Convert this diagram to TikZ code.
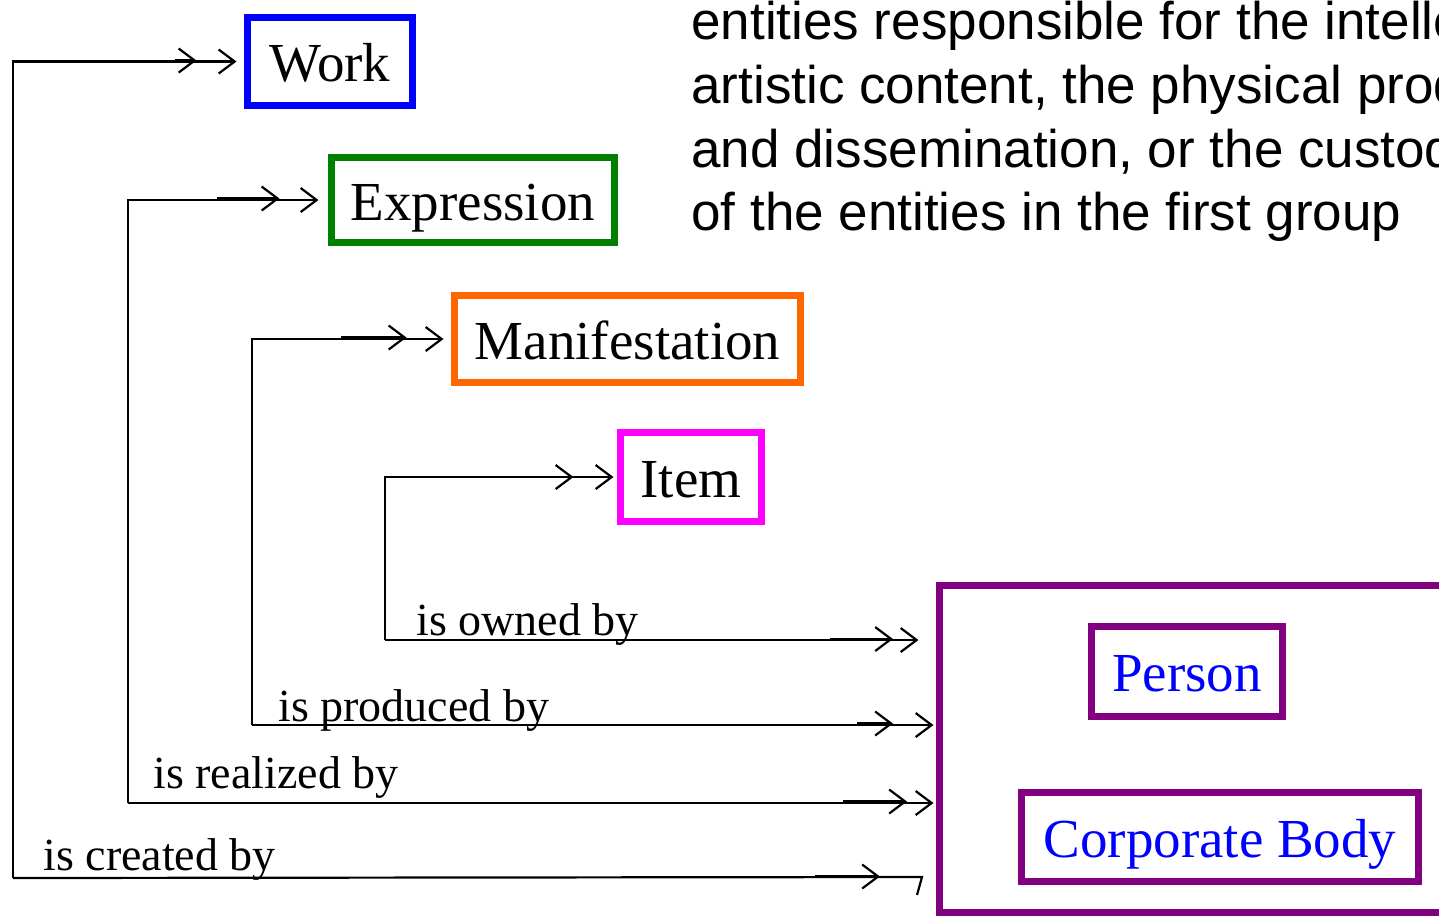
\documentclass[tikz,border=0pt]{standalone}
\usepackage{fontspec}
\setmainfont{Liberation Serif}
\newfontfamily\arialfont{Liberation Sans}
\usetikzlibrary{arrows.meta}

\definecolor{frbrblue}{RGB}{0,0,255}
\definecolor{frbrgreen}{RGB}{0,128,0}
\definecolor{frbrorange}{RGB}{255,102,0}
\definecolor{frbrmagenta}{RGB}{255,0,255}
\definecolor{frbrpurple}{RGB}{128,0,128}

\tikzset{
  link/.style={line width=1.1pt},
  tip/.style={link, -{Straight Barb[length=8pt,width=12pt]}},
  rel/.style={anchor=base west, inner sep=0pt, font=\fontsize{23}{27}\selectfont},
  desc/.style={anchor=base west, inner sep=0pt, font=\arialfont\fontsize{26.5}{32}\selectfont}
}

\begin{document}
\begin{tikzpicture}[x=0.5pt,y=-0.5pt]
  \useasboundingbox (0,0) rectangle (1439,917);
  \clip (0,0) rectangle (1439,917);

    \begin{scope}[shape=rectangle]
    \tikzstyle{every node}=[draw, line width=3.5pt, inner sep=0pt, text height=20pt, text depth=0pt, font=\fontsize{27.5}{33}\selectfont]
    \node[draw=frbrblue, minimum width=82.5pt, minimum height=44pt] (work) at (330,61.5) {Work};
    \node[draw=frbrgreen, minimum width=141.5pt, minimum height=42.5pt] (expr) at (473,200) {Expression};
    \node[draw=frbrorange, minimum width=173pt, minimum height=43.5pt] (manif) at (627.5,339) {Manifestation};
    \node[draw=frbrmagenta, minimum width=70.5pt, minimum height=44.5pt] (item) at (691,477) {Item};
    \node[draw=frbrpurple, minimum width=280.25pt, minimum height=163.5pt] (group) at (1219.75,749) {};
    \node[draw=frbrpurple, text=frbrblue, minimum width=95.5pt, minimum height=45pt] (person) at (1187,671.5) {Person};
    \node[draw=frbrpurple, text=frbrblue, minimum width=198.5pt, minimum height=44.5pt] (corp) at (1220,837) {Corporate Body};
    \end{scope}

  % text of the second group
  \node[desc] (desc1) at (691,39) {entities responsible for the intelle};
  \node[desc] (desc2) at (691,103) {artistic content, the physical prod};
  \node[desc] (desc3) at (691,167) {and dissemination, or the custod};
  \node[desc] (desc4) at (691,230) {of the entities in the first group};

  \coordinate (owc) at (385,640);
  \coordinate (prc) at (252,725);
  \coordinate (rec) at (128,803);
  \coordinate (crc) at (13,878);

  \begin{scope}
    \draw[tip, shorten >=1.75pt] (owc) |- (item.west);
    \draw[tip, shorten >=8.75pt] (owc) -- (owc -| group.west);
    \draw[tip, shorten >=3.75pt] (prc) |- (manif.west);
    \draw[tip, shorten >=1.25pt] (prc) -- (prc -| group.west);
    \draw[tip, shorten >=4.75pt] (rec) |- (expr.west);
    \draw[tip, shorten >=1.25pt] (rec) -- (rec -| group.west);
    \draw[tip, shorten >=3.75pt] (crc) |- (work.west);
    \draw[link] (crc) -- ++(909,-1) -- ++(-5,18);

    % inner heads
    \draw[tip] (work.west) ++(-69.5,-1) -- ++(22,0);
    \draw[tip] (expr.west) ++(-111.5,-1.5) -- ++(63,0);
    \draw[tip] (manif.west) ++(-110.5,-1.5) -- ++(66,0);
    \draw[tip] (item.west) ++(-75.5,0) -- ++(32,0);
    \draw[tip] (owc) ++(445,-1) -- ++(63,0);
    \draw[tip] (prc) ++(605,-1.5) -- ++(36,0);
    \draw[tip] (rec) ++(715,-1.5) -- ++(64,0);
    \draw[tip] (crc) ++(802,-1.5) -- ++(65,0);
  \end{scope}

  \node[rel] (owned) at (416,635) {is owned by};
  \node[rel] (produced) at (278,721) {is produced by};
  \node[rel] (realized) at (153,788) {is realized by};
  \node[rel] (created) at (43,870) {is created by};

\end{tikzpicture}
\end{document}
